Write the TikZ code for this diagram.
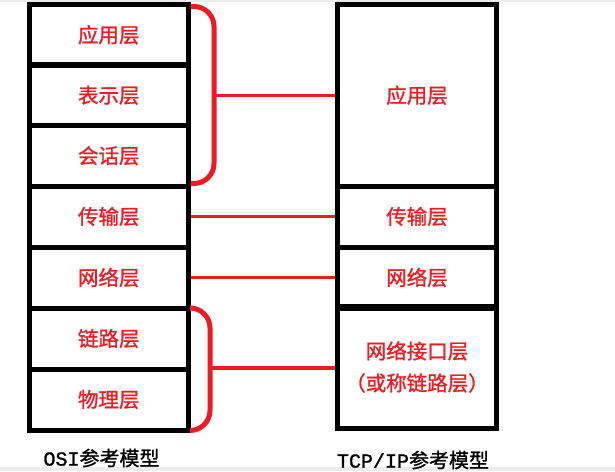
\documentclass[tikz,border=0pt]{standalone}
\usepackage{fontspec}
\newfontfamily\cjk{Noto Sans CJK SC}[FakeBold=1.2]
\newfontfamily\capcjk{Noto Sans CJK SC}
\newfontfamily\mono{Liberation Mono}[FakeBold=1.2]
\definecolor{lred}{RGB}{237,28,36}
\definecolor{edgegray}{RGB}{236,236,236}
\begin{document}
\begin{tikzpicture}[x=1pt,y=-1pt,
  layer/.style={draw=black, line width=5pt, minimum width=158.5pt, text=lred,
    font=\cjk\fontsize{20.5}{32}\selectfont, inner sep=0pt, align=center},
  link/.style={draw=lred, line width=3.5pt},
  brace/.style={draw=lred, line width=5pt, rounded corners=20pt},
  caption/.style={font=\fontsize{20}{24}\selectfont, text=black, inner sep=0pt}]
\useasboundingbox (0,0) rectangle (615,471);
\fill[white] (0,0) rectangle (615,471);
\fill[edgegray] (0,0) rectangle (615,2);
\fill[edgegray] (0,467) rectangle (615,471);
% OSI model
\node[layer, minimum height=61pt] (app) at (108.75,34.75) {应用层};
\node[layer, minimum height=61pt] (pre) at (108.75,95.25) {表示层};
\node[layer, minimum height=61pt] (ses) at (108.75,155.75) {会话层};
\node[layer, minimum height=61pt] (tra) at (108.75,216.5) {传输层};
\node[layer, minimum height=61pt] (net) at (108.75,277.5) {网络层};
\node[layer, minimum height=61pt] (dl)  at (108.75,338.5) {链路层};
\node[layer, minimum height=61pt] (phy) at (108.75,399.5) {物理层};
% TCP/IP model
\node[layer, minimum height=181.5pt] (rapp) at (417,95.25) {应用层};
\node[layer, minimum height=61pt] (rtra) at (417,216.5) {传输层};
\node[layer, minimum height=61pt] (rnet) at (417,277.5) {网络层};
\node[layer, minimum height=122pt] (rlink) at (417,367) {网络接口层\\（或称链路层）};
% captions
\node[caption] (osi) at (101.5,458) {{\mono OSI}\cjk 参考模型};
\node[caption] (tcp) at (413,460) {{\mono TCP/IP}\cjk 参考模型};
% brackets
\draw[brace] (190.5,6.5) -- (214,6.5) -- (214,183.5) -- (190.5,183.5);
\coordinate (bt) at (214,95.25);
\draw[brace] (190.5,308) -- (210,308) -- (210,430.5) -- (190.5,430.5);
\coordinate (bb) at (210,368);
% connectors
\draw[link] (bt) -- (rapp.west);
\draw[link] (tra.east) -- (rtra.west);
\draw[link] (net.east) -- (rnet.west);
\draw[link] (bb) -- (rlink.west |- bb);
\end{tikzpicture}
\end{document}
